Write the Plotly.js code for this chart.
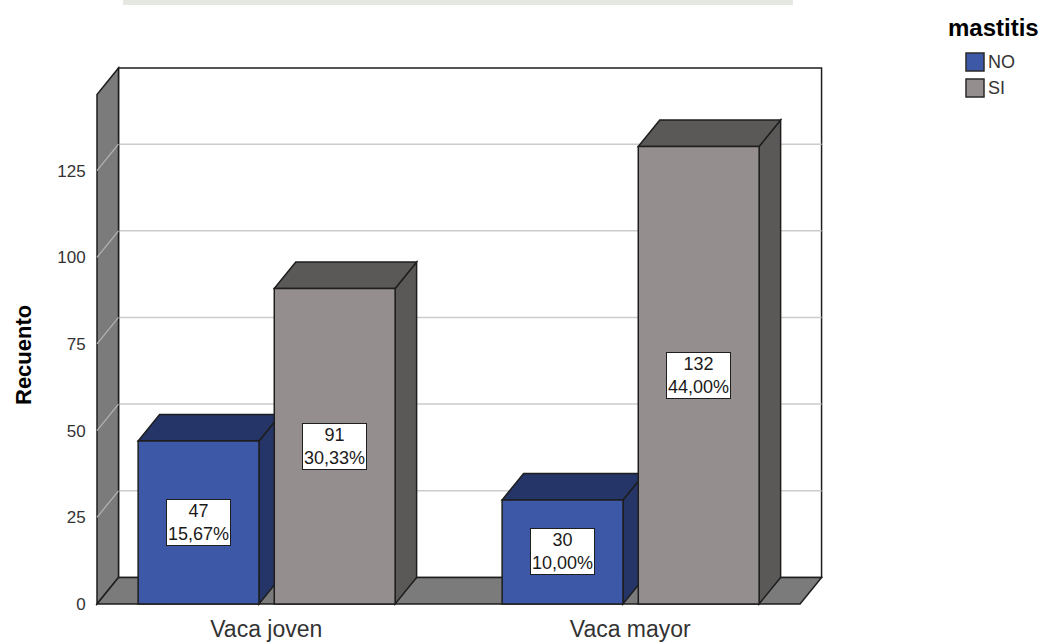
<!DOCTYPE html>
<html>
<head>
<meta charset="utf-8">
<script src="https://cdn.plot.ly/plotly-3.0.1.min.js"></script>
<style>
  html, body { margin: 0; padding: 0; background: #ffffff; }
  #chart { width: 1043px; height: 642px; }
</style>
</head>
<body>
<div id="chart"></div>
<script>
// Recuento de vacas por grupo de edad y presencia de mastitis
const categories = ['Vaca joven', 'Vaca mayor'];
const seriesNames = ['NO', 'SI'];
const countsNO = [47, 30];
const countsSI = [91, 132];
const yTickVals = [0, 25, 50, 75, 100, 125];
const legendTitle = 'mastitis';
const yTitle = 'Recuento';

// colours: front face, top/side face
const frontColor = { NO: '#3e58a8', SI: '#948f8e' };
const shadeColor = { NO: '#263568', SI: '#5b5958' };
const wallColor = '#7b7b7b';
const gridColor = '#cccccc';
const edgeColor = '#1e1e1e';

// plot frame (pixels) and axis scales
const W = 1043, H = 642;
const L = 95, R = 825, T = 66, B = 606;
const xRange = [-0.4705, 1.535];
const yRange = [-0.6, 155.2];
const pxPerX = (R - L) / (xRange[1] - xRange[0]);
const pxPerY = (B - T) / (yRange[1] - yRange[0]);

// 3D depth offset (pixels -> data units)
const DX = 21.5 / pxPerX;
const DY = 26.5 / pxPerY;

// walls
const wallLeft = -0.465;          // front-left edge of the box
const wallFrontRight = 1.4665;    // front-right corner of the floor
const wallTop = 147.0;            // top of the front plane

// bar placement relative to category position
const barWidth = 0.332;
const barOffset = { NO: -0.352, SI: 0.022 };

const total = countsNO.concat(countsSI).reduce((a, b) => a + b, 0);
const pct = v => (v / total * 100).toFixed(2).replace('.', ',') + '%';

const poly = pts => 'M ' + pts.map(p => p[0] + ',' + p[1]).join(' L ') + ' Z';
const xp = px => (px - L) / (R - L);
const yp = py => (B - py) / (B - T);

const shapes = [];

// faint band along the top edge
shapes.push({ type: 'rect', xref: 'paper', yref: 'paper',
  x0: xp(123), x1: xp(793), y0: yp(0), y1: yp(5),
  fillcolor: '#e4e8e1', line: { width: 0 }, layer: 'below' });

// back wall
shapes.push({ type: 'path', xref: 'x', yref: 'y', layer: 'below',
  path: poly([[wallLeft + DX, DY], [wallLeft + DX, wallTop + DY],
              [wallFrontRight + DX, wallTop + DY], [wallFrontRight + DX, DY]]),
  fillcolor: '#ffffff', line: { color: edgeColor, width: 1.5 } });

// gridlines on the back wall and the left wall
yTickVals.slice(1).forEach(v => {
  shapes.push({ type: 'line', xref: 'x', yref: 'y', layer: 'below',
    x0: wallLeft + DX, x1: wallFrontRight + DX, y0: v + DY, y1: v + DY,
    line: { color: gridColor, width: 1.5 } });
});

// left wall
shapes.push({ type: 'path', xref: 'x', yref: 'y', layer: 'below',
  path: poly([[wallLeft, 0], [wallLeft + DX, DY], [wallLeft + DX, wallTop + DY], [wallLeft, wallTop]]),
  fillcolor: wallColor, line: { color: edgeColor, width: 1.5 } });
yTickVals.slice(1).forEach(v => {
  shapes.push({ type: 'line', xref: 'x', yref: 'y', layer: 'below',
    x0: wallLeft, x1: wallLeft + DX, y0: v, y1: v + DY,
    line: { color: '#b4b4b4', width: 1.2 } });
});

// floor
shapes.push({ type: 'path', xref: 'x', yref: 'y', layer: 'below',
  path: poly([[wallLeft, 0], [wallLeft + DX, DY], [wallFrontRight + DX, DY], [wallFrontRight, 0]]),
  fillcolor: wallColor, line: { color: edgeColor, width: 1.5 } });

// top and side faces of each bar
const seriesData = { NO: countsNO, SI: countsSI };
categories.forEach((c, i) => {
  seriesNames.forEach(s => {
    const v = seriesData[s][i];
    const x0 = i + barOffset[s];
    const x1 = x0 + barWidth;
    shapes.push({ type: 'path', xref: 'x', yref: 'y', layer: 'below',
      path: poly([[x1, 0], [x1, v], [x1 + DX, v + DY], [x1 + DX, DY]]),
      fillcolor: shadeColor[s], line: { color: edgeColor, width: 1.5 } });
    shapes.push({ type: 'path', xref: 'x', yref: 'y', layer: 'below',
      path: poly([[x0, v], [x0 + DX, v + DY], [x1 + DX, v + DY], [x1, v]]),
      fillcolor: shadeColor[s], line: { color: edgeColor, width: 1.5 } });
  });
});

// front faces
const traces = seriesNames.map(s => ({
  type: 'bar',
  name: s,
  x: categories.map((c, i) => i),
  y: seriesData[s],
  width: barWidth,
  offset: barOffset[s],
  marker: { color: frontColor[s], line: { color: edgeColor, width: 1.5 } },
  hoverinfo: 'skip',
  showlegend: false
}));

// value labels, centred on each front face
const annotations = [];
categories.forEach((c, i) => {
  seriesNames.forEach(s => {
    const v = seriesData[s][i];
    annotations.push({
      xref: 'x', yref: 'y',
      x: i + barOffset[s] + barWidth / 2, y: v / 2,
      text: v + '<br>' + pct(v),
      showarrow: false,
      font: { family: 'Liberation Sans, Arial, sans-serif', size: 18, color: '#1a1a1a' },
      bgcolor: '#ffffff', bordercolor: edgeColor, borderwidth: 1, borderpad: 1,
      align: 'center'
    });
  });
});

// axis title
annotations.push({
  xref: 'paper', yref: 'paper', x: xp(23), y: yp(355),
  text: '<b>' + yTitle + '</b>', textangle: -90, showarrow: false,
  font: { family: 'Liberation Sans, Arial, sans-serif', size: 22, color: '#000000' },
  xanchor: 'center', yanchor: 'middle'
});

// legend
annotations.push({
  xref: 'paper', yref: 'paper', x: xp(993), y: yp(28),
  text: '<b>' + legendTitle + '</b>', showarrow: false,
  font: { family: 'Liberation Sans, Arial, sans-serif', size: 24, color: '#000000' },
  xanchor: 'center', yanchor: 'middle'
});
seriesNames.forEach((s, k) => {
  const top = 53 + k * 26;
  shapes.push({ type: 'rect', xref: 'paper', yref: 'paper',
    x0: xp(966), x1: xp(984), y0: yp(top + 18), y1: yp(top),
    fillcolor: frontColor[s], line: { color: '#2a2a2a', width: 1.5 } });
  annotations.push({
    xref: 'paper', yref: 'paper', x: xp(986), y: yp(top + 9),
    text: s, showarrow: false, xanchor: 'left', yanchor: 'middle',
    font: { family: 'Liberation Sans, Arial, sans-serif', size: 18, color: '#333333' }
  });
});

const layout = {
  width: W, height: H,
  margin: { l: L, r: W - R, t: T, b: H - B, pad: 0 },
  paper_bgcolor: '#ffffff',
  plot_bgcolor: 'rgba(0,0,0,0)',
  barmode: 'overlay',
  showlegend: false,
  xaxis: {
    type: 'linear', range: xRange,
    tickvals: categories.map((c, i) => i), ticktext: categories,
    showgrid: false, zeroline: false, showline: false,
    ticks: 'outside', ticklen: 2, tickcolor: 'rgba(0,0,0,0)',
    tickfont: { family: 'Liberation Sans, Arial, sans-serif', size: 23, color: '#333333' },
    fixedrange: true
  },
  yaxis: {
    range: yRange,
    tickvals: yTickVals,
    showgrid: false, zeroline: false, showline: false,
    ticks: 'outside', ticklen: 5, tickcolor: 'rgba(0,0,0,0)',
    tickfont: { family: 'Liberation Sans, Arial, sans-serif', size: 17, color: '#333333' },
    fixedrange: true
  },
  shapes: shapes,
  annotations: annotations
};

Plotly.newPlot('chart', traces, layout, { displayModeBar: false, staticPlot: true });
</script>
</body>
</html>
